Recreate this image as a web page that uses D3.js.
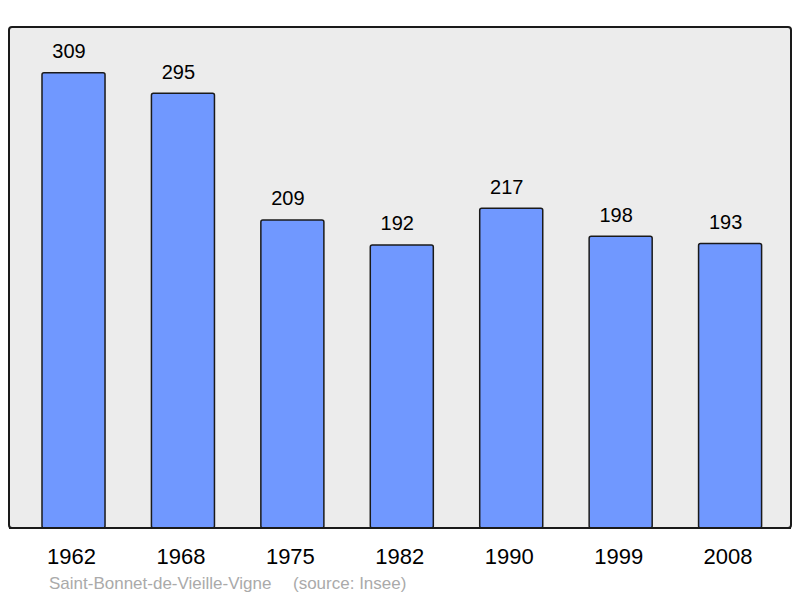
<!DOCTYPE html>
<html><head><meta charset="utf-8">
<script src="https://cdnjs.cloudflare.com/ajax/libs/d3/7.8.5/d3.min.js"></script>
<style>body{margin:0;background:#fff}svg{display:block}</style>
</head><body>
<svg id="c" width="800" height="598"></svg>
<script>
const years = ["1962","1968","1975","1982","1990","1999","2008"];
const population = [309,295,209,192,217,198,193];
const caption = "Saint-Bonnet-de-Vieille-Vigne";
const source = "(source: Insee)";

(function(){
const svg = d3.select("#c");
const pTop = 27, pBottom = 528, pLeft = 9, pRight = 791;
const x = d3.scaleBand().domain(years).range([18.8, 784.8]).paddingInner(0.424).paddingOuter(0.212);
const y = d3.scaleLinear().domain([0, 340]).range([pBottom, pTop]);
const font = "Liberation Sans, Arial, sans-serif";

svg.append("rect").attr("x", pLeft).attr("y", pTop).attr("width", pRight-pLeft).attr("height", pBottom-pTop)
  .attr("rx", 3).attr("fill", "#ececec").attr("stroke", "#1a1a1a").attr("stroke-width", 2);

const data = years.map((yr,i)=>({yr, v: population[i]}));
svg.selectAll("rect.bar").data(data).enter().append("rect").attr("class","bar")
  .attr("x", d=>x(d.yr)).attr("width", x.bandwidth())
  .attr("y", d=>y(d.v)).attr("height", d=>pBottom - y(d.v))
  .attr("rx", 2)
  .attr("fill", "#7098ff").attr("stroke", "#1a1a1a").attr("stroke-width", 1.5);

svg.selectAll("text.val").data(data).enter().append("text").attr("class","val")
  .attr("x", d=>x(d.yr)+x.bandwidth()/2 - 4.5).attr("y", d=>y(d.v)-14.7)
  .attr("text-anchor","middle").attr("font-family",font)
  .attr("font-size", 20).attr("fill","#000").text(d=>d.v);

svg.append("line").attr("x1", pLeft).attr("x2", pRight).attr("y1", pBottom).attr("y2", pBottom)
  .attr("stroke","#1a1a1a").attr("stroke-width",2);

const ax = svg.append("g").attr("transform", `translate(-2,${pBottom})`)
  .call(d3.axisBottom(x).tickSize(0));
ax.select(".domain").remove();
ax.selectAll("text").attr("y", 36).attr("dy", 0)
  .attr("font-family",font).attr("font-size", 22).attr("fill","#000");

svg.append("text").attr("x", 49).attr("y", 589).attr("font-family",font)
  .attr("font-size", 17).attr("fill","#aaaaaa").text(caption);
svg.append("text").attr("x", 293).attr("y", 589).attr("font-family",font)
  .attr("font-size", 17).attr("fill","#aaaaaa").text(source);
})();
</script>
</body></html>
